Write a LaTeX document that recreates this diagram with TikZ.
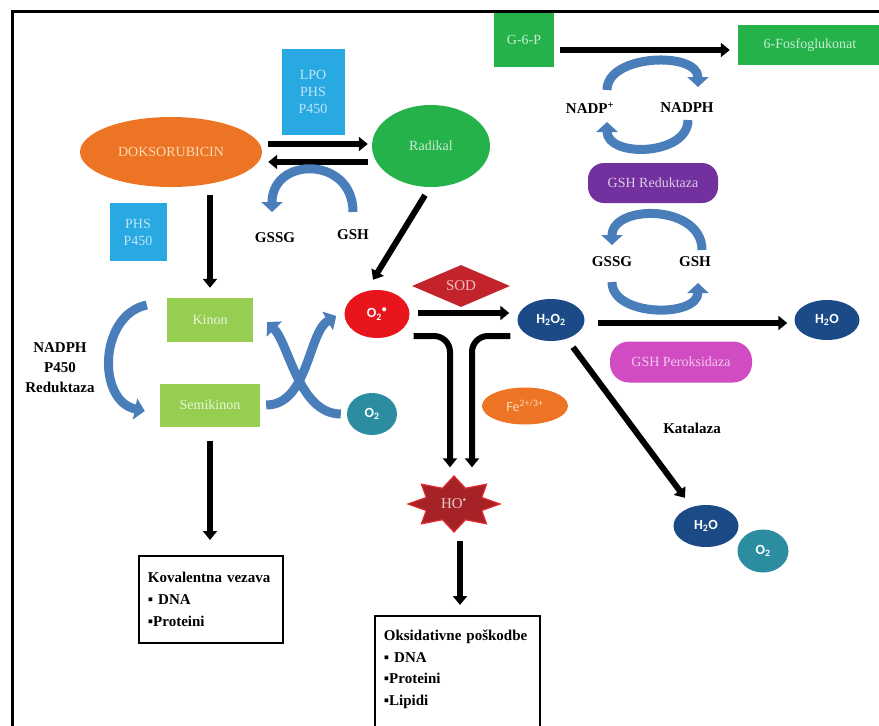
\documentclass[tikz,border=0pt]{standalone}
\usepackage{fontspec}
\setmainfont{Liberation Serif}
\newfontfamily\calib{Carlito}
\usepackage{xcolor}
\usepackage{tikz}
\usetikzlibrary{calc}
\usetikzlibrary{arrows.meta}
\usetikzlibrary{shapes.geometric}

\definecolor{enzblue}{HTML}{29A9E1}
\definecolor{doxorange}{HTML}{EC7424}
\definecolor{radgreen}{HTML}{25B24A}
\definecolor{kinongreen}{HTML}{96CE52}
\definecolor{supred}{HTML}{E8161C}
\definecolor{oxteal}{HTML}{2C8CA0}
\definecolor{waternavy}{HTML}{1B4A86}
\definecolor{sodred}{HTML}{C3242B}
\definecolor{hofill}{HTML}{A52226}
\definecolor{horim}{HTML}{E02A2F}
\definecolor{gshpurple}{HTML}{7331A0}
\definecolor{gpxmagenta}{HTML}{D14CC2}
\definecolor{cycleblue}{HTML}{4A7EBB}

\tikzstyle{enzbox}=[shape=rectangle, fill=enzblue, text=white!70!enzblue, inner sep=0pt, align=center, font=\fontsize{14}{17}\selectfont]
\tikzstyle{colbox}=[shape=rectangle, inner sep=0pt, align=center, font=\fontsize{14}{17}\selectfont]
\tikzstyle{pillbox}=[shape=rectangle, rounded corners=16pt, inner sep=0pt, align=center, font=\fontsize{14}{17}\selectfont]
\tikzstyle{bigell}=[shape=ellipse, inner sep=0pt, align=center, font=\fontsize{14}{17}\selectfont]
\tikzstyle{molnode}=[shape=ellipse, inner sep=0pt, text=white, font=\calib\bfseries\fontsize{14}{16}\selectfont]
\tikzstyle{lbl}=[inner sep=0pt, align=center, font=\bfseries\fontsize{15}{20}\selectfont]
\tikzstyle{resultbox}=[shape=rectangle, draw=black, line width=1.8pt, align=left, anchor=north west, inner xsep=9pt, font=\bfseries\fontsize{15}{22}\selectfont]
\tikzstyle{flow}=[-{Triangle[length=9pt, width=14pt]}, line width=6pt, color=black]
\tikzstyle{cyclearrow}=[-{Triangle[length=10pt, width=21pt]}, line width=9pt, color=cycleblue]

\begin{document}
\begin{tikzpicture}[x=1pt, y=-1pt]
\useasboundingbox (0,0) rectangle (879,726);
\draw[line width=3pt] (12,726) -- (12,11.5) -- (879,11.5);

% doksorubicin and radical
\node [enzbox, minimum width=63pt, minimum height=86pt] (lpo) at (313,92) {LPO\\PHS\\P450};
\node [bigell, fill=doxorange, text=white!70!orange, minimum width=182pt, minimum height=70pt] (doks) at (171,152) {DOKSORUBICIN};
\node [bigell, fill=radgreen, text=white!75!radgreen, minimum width=118pt, minimum height=82pt] (radikal) at (431,146) {Radikal};
\node [enzbox, minimum width=57pt, minimum height=58pt] (phs) at (138,232) {PHS\\P450};
\node [lbl] (gssgA) at (275,238) {GSSG};
\node [lbl] (gshA) at (353,235) {GSH};

% redox cycle
\node [colbox, fill=kinongreen, text=white!80!kinongreen, minimum width=86pt, minimum height=44pt] (kinon) at (210,320) {Kinon};
\node [colbox, fill=kinongreen, text=white!80!kinongreen, minimum width=100pt, minimum height=43pt] (semikinon) at (210,405) {Semikinon};
\node [lbl] (reduktaza) at (60,368) {NADPH\\P450\\Reduktaza};
\node [molnode, fill=supred, minimum width=65pt, minimum height=48pt] (superox) at (377,314) {O\textsubscript{2}\textsuperscript{•}};
\node [molnode, fill=oxteal, minimum width=50pt, minimum height=42pt] (o2A) at (372,414) {O\textsubscript{2}};

% superoxide dismutation
\node [shape=diamond, aspect=2.3, fill=sodred, text=white!70!sodred, inner sep=0pt, minimum width=98pt, minimum height=42pt, font=\fontsize{15}{17}\selectfont] (sod) at (461,286) {SOD};
\node [molnode, fill=waternavy, minimum width=67pt, minimum height=42pt] (h2o2) at (551,320) {H\textsubscript{2}O\textsubscript{2}};
\node [bigell, fill=doxorange, text=white!70!orange, minimum width=86pt, minimum height=37pt, font=\calib\fontsize{14}{16}\selectfont] (fe) at (525,406) {Fe\textsuperscript{2+/3+}};
\coordinate (hoc) at (454,504);
\draw[fill=hofill, draw=horim, line width=1.2pt] ($(hoc)+(46,0)$) \foreach \a in {22.5,67.5,...,337.5} { -- ($(hoc)+({30*cos(\a)},{17*sin(\a)})$) -- ($(hoc)+({46*cos(\a+22.5)},{28*sin(\a+22.5)})$) } -- cycle;
\node [shape=ellipse, inner sep=0pt, minimum width=92pt, minimum height=55pt, text=white!75!hofill, font=\fontsize{15}{17}\selectfont] (ho) at (hoc) {HO\textsuperscript{•}};

% glutathione side
\node [colbox, fill=radgreen, text=white!75!radgreen, minimum width=60pt, minimum height=54pt] (g6p) at (524,40) {G-6-P};
\node [colbox, fill=radgreen, text=white!75!radgreen, minimum width=144pt, minimum height=40pt] (fosfo) at (810,45) {6-Fosfoglukonat};
\node [lbl] (nadpp) at (590,108) {NADP\textsuperscript{+}};
\node [lbl] (nadph) at (687,108) {NADPH};
\node [pillbox, fill=gshpurple, text=white!75!gshpurple, minimum width=130pt, minimum height=40pt] (gshred) at (653,183) {GSH Reduktaza};
\node [lbl] (gssgB) at (612,262) {GSSG};
\node [lbl] (gshB) at (695,262) {GSH};
\node [molnode, fill=waternavy, minimum width=65pt, minimum height=40pt] (h2oA) at (827,320) {H\textsubscript{2}O};
\node [pillbox, rounded corners=19pt, fill=gpxmagenta, text=white!70!gpxmagenta, minimum width=142pt, minimum height=41pt] (gpx) at (681,362) {GSH Peroksidaza};
\node [lbl] (katalaza) at (692,428) {Katalaza};
\node [molnode, fill=waternavy, minimum width=65pt, minimum height=42pt] (h2oB) at (706,526) {H\textsubscript{2}O};
\node [molnode, fill=oxteal, minimum width=51pt, minimum height=43pt] (o2B) at (763,551) {O\textsubscript{2}};

% damage
\node [resultbox, minimum width=144pt, minimum height=87pt, text width=126pt] (kovalent) at (138,555) {Kovalentna vezava\\▪ DNA\\▪Proteini};
\node [resultbox, minimum width=165pt, inner ysep=14pt, text width=147pt, font=\bfseries\fontsize{15}{21.7}\selectfont] (oks) at (374,615) {Oksidativne poškodbe\\▪ DNA\\▪Proteini\\▪Lipidi\\[-6pt]\mbox{}};

% black arrows
\draw[flow] ([xshift=6pt,yshift=8pt]doks.east) -- ([xshift=-4pt,yshift=2pt]radikal.west);
\draw[flow] ([xshift=-4pt,yshift=-16pt]radikal.west) -- ([xshift=6pt,yshift=-10pt]doks.east);
\draw[flow, shorten <=8pt, shorten >=10pt] ([xshift=39pt]doks.south) -- ([xshift=39pt]doks.south |- kinon.north);
\draw[flow] ([xshift=-6pt,yshift=-8pt]radikal.south) -- ([xshift=-4pt,yshift=10pt]superox.north);
\draw[flow, shorten <=14pt, shorten >=15pt] (semikinon.south) -- (semikinon.south |- kovalent.north);
\draw[flow] ([xshift=8pt,yshift=1pt]superox.east) -- ([xshift=-8pt,yshift=7pt]h2o2.west);
\draw[flow, rounded corners=16pt] ([xshift=4pt,yshift=-22pt]superox.east) -| ([xshift=-4pt,yshift=9pt]ho.north);
\draw[flow, rounded corners=16pt] ([xshift=-7pt,yshift=-16pt]h2o2.west) -| ([xshift=18pt,yshift=9pt]ho.north);
\draw[flow, shorten <=9pt, shorten >=10pt] ([xshift=6pt]ho.south) -- ([xshift=6pt]ho.south |- oks.north);
\draw[flow] ([xshift=13pt,yshift=-3pt]h2o2.east) -- ([xshift=-7pt,yshift=-3pt]h2oA.west);
\draw[flow] ([xshift=22pt,yshift=-6pt]h2o2.south) -- ([xshift=-21pt,yshift=7pt]h2oB.north);
\draw[flow] ([xshift=6pt,yshift=-10pt]g6p.east) -- ([xshift=-8pt,yshift=-5pt]fosfo.west);

% blue cycle arrows
\draw[cyclearrow] ([yshift=23pt]gshA.center) .. controls +(0,-56) and +(0,-56) .. ([xshift=-3pt,yshift=26pt]gssgA.center);
\draw[cyclearrow] ([xshift=-20pt,yshift=15pt]kinon.west) .. controls +(-48,10) and +(-48,-10) .. ([xshift=-15pt,yshift=-6pt]semikinon.west);
\draw[cyclearrow] ([xshift=6pt]semikinon.east) .. controls +(42,0) and +(-28,16) .. ([xshift=-8pt,yshift=-2pt]superox.west);
\draw[cyclearrow] ([xshift=-6pt]o2A.west) .. controls +(-42,0) and +(22,22) .. ([xshift=14pt,yshift=-2pt]kinon.east);
\draw[cyclearrow] ([xshift=17pt,yshift=18pt]nadpp.center) .. controls +(0,-36) and +(0,-36) .. ([xshift=11pt,yshift=21pt]nadph.center);
\draw[cyclearrow] ([xshift=1pt,yshift=-12pt]nadph.center) .. controls +(0,36) and +(0,36) .. ([xshift=17pt,yshift=-14pt]nadpp.center);
\draw[cyclearrow] ([xshift=7pt,yshift=12pt]gshB.center) .. controls +(0,-46) and +(0,-41) .. ([yshift=17pt]gssgB.center);
\draw[cyclearrow] ([yshift=-20pt]gssgB.center) .. controls +(0,35) and +(0,35) .. ([xshift=3pt,yshift=-21pt]gshB.center);
\end{tikzpicture}
\end{document}
